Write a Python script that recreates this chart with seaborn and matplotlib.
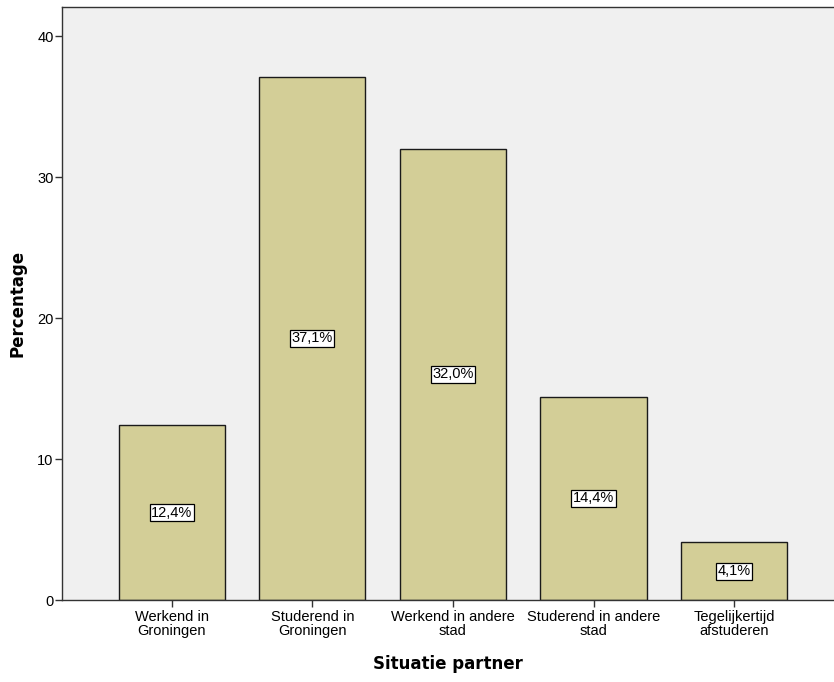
import matplotlib
matplotlib.use("Agg")
import matplotlib.pyplot as plt
import seaborn as sns
import pandas as pd

categories = ["Werkend in\nGroningen", "Studerend in\nGroningen", "Werkend in andere\nstad",
              "Studerend in andere\nstad", "Tegelijkertijd\nafstuderen"]
percentages = [12.4, 37.1, 32.0, 14.4, 4.1]
value_labels = ["12,4%", "37,1%", "32,0%", "14,4%", "4,1%"]
yticks = [0, 10, 20, 30, 40]

df = pd.DataFrame({"cat": categories, "pct": percentages})

sns.set_style("white")
plt.rcParams['font.family'] = ['Liberation Sans', 'DejaVu Sans']
plt.rcParams['text.color'] = 'black'
plt.rcParams['axes.labelcolor'] = 'black'
plt.rcParams['xtick.color'] = '#333333'
plt.rcParams['ytick.color'] = '#333333'
plt.rcParams['xtick.labelcolor'] = 'black'
plt.rcParams['ytick.labelcolor'] = 'black'

fig = plt.figure(figsize=(8.34, 6.82), dpi=100)
ax = fig.add_axes([62/834, 82/682, 1 - 62/834, (600-7)/682])
ax.set_facecolor("#F0F0F0")

sns.barplot(data=df, x="cat", y="pct", ax=ax, color="#D3CE97", saturation=1,
            edgecolor="#1a1a1a", linewidth=1.0, width=0.755)

for i, (v, lab) in enumerate(zip(percentages, value_labels)):
    ax.text(i, v / 2, lab, ha="center", va="center", fontsize=10.5, color="black",
            bbox=dict(boxstyle="square,pad=0.1", facecolor="white", edgecolor="black", linewidth=0.9))

ax.set_xlim(-0.78, 4.71)
ax.set_ylim(0, 42.06)
ax.set_yticks(yticks)
ax.set_yticklabels([str(t) for t in yticks], fontsize=10.5)
ax.tick_params(axis="x", bottom=True, labelsize=10.5, length=5, width=1, pad=2)
ax.tick_params(axis="y", left=True, length=5, width=1, pad=1)
for lbl in ax.get_xticklabels():
    lbl.set_linespacing(1.05)

for s in ["left", "top", "bottom"]:
    ax.spines[s].set_color("#333333")
    ax.spines[s].set_linewidth(1.0)
ax.spines["right"].set_visible(False)

ax.set_xlabel("Situatie partner", fontsize=12, fontweight="bold", labelpad=12,
              family=["DejaVu Sans"], color="black")
ax.set_ylabel("Percentage", fontsize=12, fontweight="bold", labelpad=8,
              family=["DejaVu Sans"], color="black")

fig.savefig("out.png", dpi=100, facecolor="white")
